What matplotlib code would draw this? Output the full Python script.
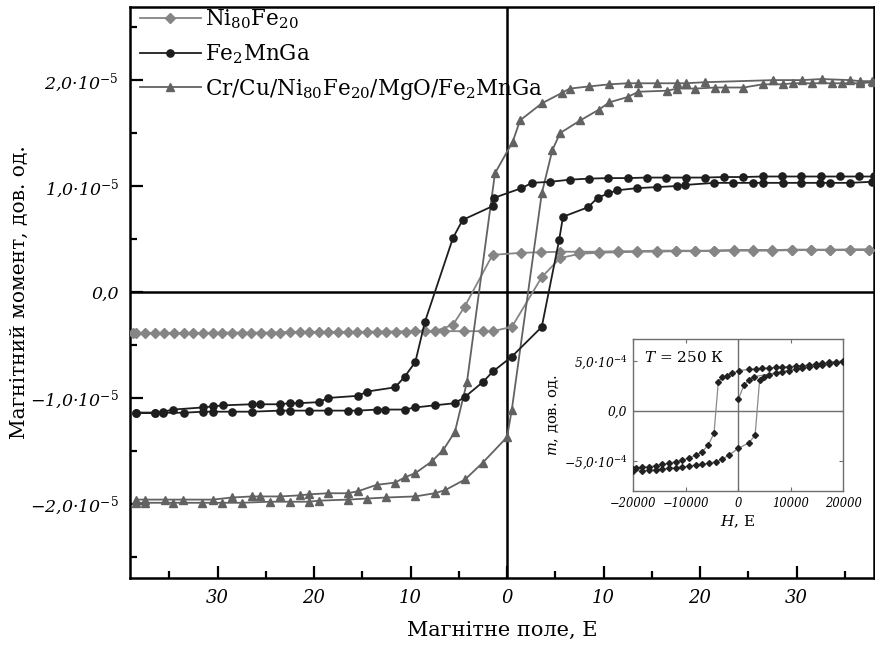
import matplotlib
matplotlib.use("Agg")
import matplotlib.pyplot as plt
from matplotlib.ticker import MultipleLocator

plt.rcParams['font.family'] = ['DejaVu Serif']
plt.rcParams['mathtext.fontset'] = 'dejavuserif'
plt.rcParams['mathtext.default'] = 'it'

# ---------------- main data (H in Oe, m in units of 1e-5) ----------------
ni_desc_h = [37.5, 35.5, 33.5, 31.5, 29.5, 27.5, 25.5, 23.5, 21.5, 19.5, 17.5, 15.5, 13.5, 11.5,
             9.5, 7.5, 5.5, 3.5, 1.5, -1.5, -4.4, -5.6, -7.5, -9.5, -11.5, -13.5, -15.5, -17.5,
             -19.5, -21.5, -23.5, -25.5, -27.5, -29.5, -31.5, -33.5, -35.5, -37.5, -38.8]
ni_desc_m = [0.40, 0.40, 0.40, 0.40, 0.40, 0.395, 0.395, 0.395, 0.39, 0.39, 0.39, 0.39, 0.385, 0.385,
             0.38, 0.38, 0.38, 0.375, 0.37, 0.35, -0.14, -0.31, -0.37, -0.37, -0.375, -0.375, -0.38, -0.38,
             -0.38, -0.38, -0.385, -0.385, -0.385, -0.385, -0.39, -0.39, -0.39, -0.39, -0.39]
ni_asc_h = [-38.5, -36.5, -34.5, -32.5, -30.5, -28.5, -26.5, -24.5, -22.5, -20.5, -18.5, -16.5,
            -14.5, -12.5, -10.5, -8.5, -6.5, -4.5, -2.5, -1.5, 0.5, 3.6, 5.5, 7.5, 9.5, 11.5, 13.5,
            15.5, 17.5, 19.5, 21.5, 23.5, 25.5, 27.5, 29.5, 31.5, 33.5, 35.5, 37.5]
ni_asc_m = [-0.39, -0.39, -0.39, -0.39, -0.385, -0.385, -0.385, -0.385, -0.38, -0.38, -0.38, -0.38,
            -0.375, -0.375, -0.375, -0.37, -0.37, -0.37, -0.37, -0.37, -0.33, 0.14, 0.32, 0.36, 0.37,
            0.375, 0.38, 0.38, 0.385, 0.385, 0.39, 0.39, 0.39, 0.39, 0.395, 0.395, 0.395, 0.40, 0.40]

fe_desc_h = [38.0, 36.5, 34.5, 32.5, 30.5, 28.5, 26.5, 24.5, 22.5, 20.5, 18.5, 16.5, 14.5, 12.5,
             10.5, 8.5, 6.5, 4.5, 2.6, 1.5, -1.3, -1.5, -4.6, -5.6, -8.5, -9.5, -10.6, -11.6,
             -14.5, -15.4, -18.5, -19.5, -21.6, -22.5, -23.5, -25.6, -26.4, -29.4, -30.5, -31.5,
             -34.6, -35.6, -36.5, -38.5]
fe_desc_m = [1.09, 1.09, 1.09, 1.09, 1.09, 1.09, 1.09, 1.085, 1.085, 1.08, 1.08, 1.08, 1.08, 1.075,
             1.075, 1.07, 1.06, 1.04, 1.03, 0.98, 0.89, 0.81, 0.68, 0.51, -0.28, -0.66, -0.80, -0.90,
             -0.94, -0.98, -1.00, -1.04, -1.05, -1.05, -1.06, -1.06, -1.06, -1.07, -1.08, -1.09,
             -1.11, -1.13, -1.14, -1.14]
fe_asc_h = [-38.5, -36.5, -35.6, -33.5, -31.5, -30.5, -28.5, -26.4, -23.5, -22.5, -20.5, -18.5,
            -16.5, -15.4, -13.5, -12.6, -10.6, -9.5, -7.5, -5.4, -4.35, -2.5, -1.45, 0.5, 3.6, 5.4,
            5.8, 8.4, 9.4, 10.5, 11.4, 13.5, 15.5, 17.6, 18.4, 21.5, 23.4, 25.5, 26.5, 28.6, 30.5,
            32.4, 33.5, 35.5, 37.8]
fe_asc_m = [-1.14, -1.14, -1.14, -1.14, -1.13, -1.13, -1.13, -1.13, -1.12, -1.12, -1.12, -1.12,
            -1.12, -1.12, -1.11, -1.11, -1.11, -1.09, -1.07, -1.05, -0.99, -0.85, -0.75, -0.61, -0.33, 0.49,
            0.71, 0.80, 0.89, 0.93, 0.96, 0.98, 0.99, 1.00, 1.01, 1.03, 1.03, 1.03, 1.03, 1.03, 1.03,
            1.03, 1.03, 1.03, 1.04]

cr_desc_h = [37.8, 36.6, 35.5, 32.6, 30.6, 27.6, 20.5, 18.5, 17.6, 15.5, 13.6, 12.5, 10.6, 8.5,
             6.5, 5.7, 3.6, 1.35, 0.6, -1.25, -4.15, -5.4, -6.6, -7.8, -9.5, -10.6, -11.6, -13.5,
             -15.4, -16.5, -18.5, -20.5, -21.5, -23.5, -25.6, -26.4, -28.5, -30.5, -33.6, -35.4,
             -37.5, -38.5]
cr_desc_m = [1.99, 1.99, 2.00, 2.01, 2.00, 2.00, 1.98, 1.97, 1.97, 1.97, 1.97, 1.97, 1.96, 1.94,
             1.92, 1.88, 1.78, 1.62, 1.42, 1.12, -0.85, -1.32, -1.49, -1.60, -1.71, -1.75, -1.80, -1.82,
             -1.88, -1.90, -1.90, -1.91, -1.92, -1.93, -1.93, -1.93, -1.94, -1.96, -1.96, -1.96,
             -1.96, -1.96]
cr_asc_h = [-38.5, -37.5, -34.6, -31.6, -29.5, -27.5, -24.6, -22.5, -20.5, -19.5, -16.5, -14.5,
            -12.5, -9.5, -7.5, -6.4, -4.35, -2.5, 0.0, 0.5, 3.6, 4.7, 5.5, 7.6, 9.5, 10.6, 12.5,
            13.6, 16.6, 17.6, 19.5, 21.6, 22.6, 24.5, 26.5, 28.6, 29.6, 31.6, 33.7, 34.7, 36.6, 37.9]
cr_asc_m = [-1.99, -1.99, -1.99, -1.99, -1.99, -1.99, -1.98, -1.98, -1.98, -1.97, -1.96, -1.95,
            -1.94, -1.93, -1.90, -1.87, -1.77, -1.61, -1.37, -1.11, 0.93, 1.34, 1.50, 1.62, 1.72, 1.79,
            1.84, 1.89, 1.90, 1.92, 1.92, 1.93, 1.93, 1.93, 1.96, 1.96, 1.97, 1.97, 1.97, 1.97, 1.97, 1.98]

series_labels = [r'$\mathrm{Ni_{80}Fe_{20}}$', r'$\mathrm{Fe_{2}MnGa}$',
                 r'$\mathrm{Cr/Cu/Ni_{80}Fe_{20}/MgO/Fe_{2}MnGa}$']

x_ticks = [-30, -20, -10, 0, 10, 20, 30]
x_ticklabels = ['30', '20', '10', '0', '10', '20', '30']
y_ticks = [-2, -1, 0, 1, 2]
y_ticklabels = ['\u22122,0\u00b710$^{-5}$', '\u22121,0\u00b710$^{-5}$', '0,0',
                '1,0\u00b710$^{-5}$', '2,0\u00b710$^{-5}$']

# ---------------- inset data (H in Oe, m in units of 1e-4) ----------------
in_virgin_h = [90, 1150, 2120, 3070]
in_virgin_m = [1.2, 2.6, 3.1, 3.43]
in_desc_h = [20000, 18600, 17330, 16060, 14790, 13520, 12250, 10980, 9710, 8440, 7170, 5900,
             4630, 3360, 2090, 180, -1090, -2040, -3000, -3750, -4570, -5660, -6800, -8060,
             -9330, -10600, -11870, -13140, -14410, -15690, -16960, -18230, -19500, -20000]
in_desc_m = [5.0, 4.93, 4.87, 4.77, 4.7, 4.6, 4.53, 4.5, 4.43, 4.4, 4.37, 4.3,
             4.27, 4.2, 4.17, 4.03, 3.77, 3.53, 3.37, 2.93, -2.23, -3.4, -4.07, -4.4,
             -4.73, -4.9, -5.07, -5.23, -5.33, -5.47, -5.57, -5.63, -5.73, -5.75]
in_asc_h = [-20000, -18230, -16960, -15690, -14410, -13140, -11870, -10600, -9330, -8060,
            -6800, -5530, -4260, -2990, -1690, 90, 2120, 3260, 4120, 4950, 5900, 7170, 8440,
            9710, 10980, 12250, 13520, 14790, 16060, 17330, 18600, 20000]
in_asc_m = [-6.0, -5.97, -5.93, -5.87, -5.8, -5.73, -5.67, -5.6, -5.5, -5.4,
            -5.3, -5.23, -5.07, -4.83, -4.4, -3.73, -3.17, -2.4, 3.1, 3.43, 3.6, 3.77, 3.93,
            4.03, 4.17, 4.27, 4.37, 4.5, 4.6, 4.67, 4.77, 4.87]

in_x_ticks = [-20000, -10000, 0, 10000, 20000]
in_x_ticklabels = ['\u221220000', '\u221210000', '0', '10000', '20000']
in_y_ticks = [-5, 0, 5]
in_y_ticklabels = ['\u22125,0\u00b710$^{-4}$', '0,0', '5,0\u00b710$^{-4}$']

# ---------------- figure ----------------
fig = plt.figure(figsize=(8.75, 6.51), dpi=100)
ax = fig.add_axes([130 / 875, 1 - 578 / 651, 744 / 875, 571 / 651])

ax.axhline(0, color='black', lw=1.8, zorder=1)
ax.axvline(0, color='black', lw=1.8, zorder=1)

c_ni, c_fe, c_cr = '#858585', '#1e1e1e', '#626262'
ax.plot(ni_desc_h + ni_asc_h, ni_desc_m + ni_asc_m, color=c_ni, lw=1.3, marker='D', ms=5.0,
        label=series_labels[0], zorder=3)
ax.plot(fe_desc_h + fe_asc_h, fe_desc_m + fe_asc_m, color=c_fe, lw=1.3, marker='o', ms=5.2,
        label=series_labels[1], zorder=4)
ax.plot(cr_desc_h + cr_asc_h, cr_desc_m + cr_asc_m, color=c_cr, lw=1.3, marker='^', ms=6.0,
        label=series_labels[2], zorder=3)

ax.set_xlim(-39.07, 38.03)
ax.set_ylim(-2.70, 2.69)
ax.set_xticks(x_ticks)
ax.set_xticklabels(x_ticklabels, fontstyle='italic', fontsize=13)
ax.set_yticks(y_ticks)
ax.set_yticklabels(y_ticklabels, fontstyle='italic', fontsize=12.5)
ax.xaxis.set_minor_locator(MultipleLocator(5))
ax.yaxis.set_minor_locator(MultipleLocator(0.5))
ax.tick_params(which='both', direction='in', top=False, right=False, width=1.6)
ax.tick_params(which='major', length=9, pad=8)
ax.tick_params(which='minor', length=5)
for s in ax.spines.values():
    s.set_linewidth(1.8)

ax.set_xlabel('Магнітне поле, Е', fontsize=15, labelpad=10)
ax.set_ylabel('Магнітний момент, дов. од.', fontsize=14.5)
ax.yaxis.set_label_coords(-0.136, 0.5)

leg = ax.legend(loc='upper left', bbox_to_anchor=(0.008, 1.006), frameon=False, fontsize=15.5,
                handlelength=2.8, handletextpad=0.2, labelspacing=0.5, borderaxespad=0.1,
                borderpad=0.1)

# ---------------- inset ----------------
ins = fig.add_axes([633 / 875, 1 - 491 / 651, 210 / 875, 152 / 651])
gray = '#6e6e6e'
ins.axhline(0, color=gray, lw=1.0, zorder=1)
ins.axvline(0, color=gray, lw=1.0, zorder=1)
ins.plot(in_virgin_h + in_desc_h + in_asc_h, in_virgin_m + in_desc_m + in_asc_m,
         color='#8a8a8a', lw=0.9, marker='D', ms=3.0, mfc='#222222', mec='#222222', zorder=3)
ins.set_xlim(-20000, 20000)
ins.set_ylim(-8.0, 7.2)
ins.set_xticks(in_x_ticks)
ins.set_xticklabels(in_x_ticklabels, fontstyle='italic', fontsize=8.3)
ins.set_yticks(in_y_ticks)
ins.set_yticklabels(in_y_ticklabels, fontstyle='italic', fontsize=8.8)
ins.tick_params(which='both', direction='in', top=True, right=True, color=gray, width=0.8,
                length=3, pad=4)
for s in ins.spines.values():
    s.set_linewidth(1.0)
    s.set_color(gray)
ins.set_xlabel('$H$, Е', fontsize=11, labelpad=3)
ins.set_ylabel('$m$, дов. од.', fontsize=10.5, labelpad=2)
ins.text(0.05, 0.93, '$T$ = 250 К', transform=ins.transAxes, fontsize=11, va='top', ha='left')

fig.savefig('out.png', dpi=100)
